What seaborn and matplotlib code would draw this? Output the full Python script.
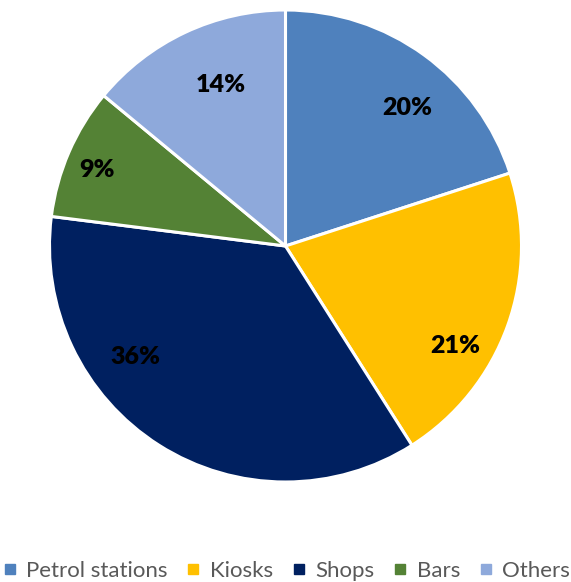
import matplotlib
matplotlib.use("Agg")
import matplotlib.pyplot as plt
import seaborn as sns
import numpy as np
from matplotlib.lines import Line2D

sns.set_theme(style="white")
plt.rcParams["font.family"] = ["Lato", "DejaVu Sans"]

categories = ["Petrol stations", "Kiosks", "Shops", "Bars", "Others"]
shares = [20, 21, 36, 9, 14]
colors = ["#4F81BD", "#FFC000", "#002060", "#548235", "#8EA9DB"]

# label placement: (angle in degrees, radius as fraction of pie radius)
label_layout = [(48.5, 0.78), (-30.5, 0.835), (-143.5, 0.79), (158, 0.86), (112, 0.735)]

W, H = 571, 582
fig = plt.figure(figsize=(W / 100, H / 100), dpi=100)
cx, cy, r = 285.5, 246, 236
ax = fig.add_axes([(cx - r) / W, (H - cy - r) / H, 2 * r / W, 2 * r / H])

wedges, _ = ax.pie(shares, colors=colors, startangle=90, counterclock=False,
                   wedgeprops=dict(edgecolor="white", linewidth=2.2))
ax.set_aspect("equal")
ax.set_xlim(-1, 1)
ax.set_ylim(-1, 1)
ax.axis("off")

for v, (ang, rad) in zip(shares, label_layout):
    t = np.deg2rad(ang)
    ax.text(rad * np.cos(t), rad * np.sin(t), f"{v}%", ha="center", va="center",
            fontsize=18, fontweight="heavy", color="black")

handles = [Line2D([0], [0], marker="s", linestyle="", markersize=7,
                  markerfacecolor=c, markeredgecolor=c) for c in colors]
fig.legend(handles, categories, loc="center", bbox_to_anchor=(0.5, 1 - 571 / H),
           ncol=5, frameon=False, fontsize=16, labelcolor="#595959",
           handletextpad=0.35, columnspacing=0.75, handlelength=0.8)

fig.savefig("out.png", dpi=100, facecolor="white")
